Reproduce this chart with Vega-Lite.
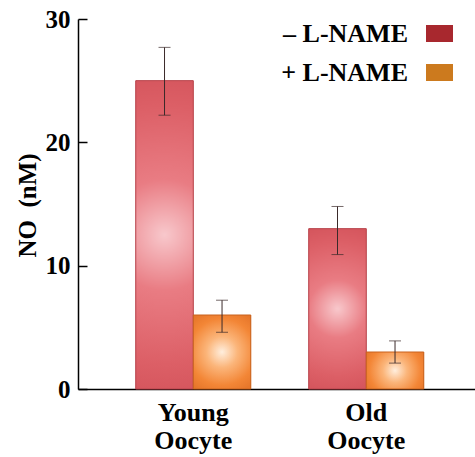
{
  "$schema": "https://vega.github.io/schema/vega-lite/v6.json",
  "width": 397,
  "height": 370,
  "autosize": {"type": "none"},
  "padding": {"left": 78, "top": 19, "right": 0, "bottom": 68},
  "background": "white",
  "config": {
    "view": {"stroke": null},
    "font": "Liberation Serif"
  },
  "data": {
    "values": [
      {"group": "Young Oocyte", "treatment": "– L-NAME", "mean": 25.0, "lo": 22.2, "hi": 27.7},
      {"group": "Young Oocyte", "treatment": "+ L-NAME", "mean": 6.0, "lo": 4.6, "hi": 7.2},
      {"group": "Old Oocyte", "treatment": "– L-NAME", "mean": 13.0, "lo": 10.9, "hi": 14.8},
      {"group": "Old Oocyte", "treatment": "+ L-NAME", "mean": 3.0, "lo": 2.1, "hi": 3.9}
    ]
  },
  "encoding": {
    "x": {
      "field": "group",
      "type": "nominal",
      "sort": null,
      "scale": {"paddingInner": 0.335, "paddingOuter": 0.315, "align": 0.53},
      "axis": {
        "title": null,
        "labelAngle": 0,
        "ticks": false,
        "domainColor": "black",
        "domainWidth": 1.5,
        "labelFont": "Liberation Serif",
        "labelFontWeight": "bold",
        "labelFontSize": 26,
        "labelColor": "black",
        "labelLineHeight": 28,
        "labelPadding": 10,
        "labelExpr": "split(datum.label, ' ')"
      }
    },
    "xOffset": {
      "field": "treatment",
      "type": "nominal",
      "sort": ["– L-NAME", "+ L-NAME"],
      "scale": {"paddingInner": 0, "paddingOuter": 0}
    }
  },
  "layer": [
    {
      "mark": {"type": "bar", "stroke": null},
      "encoding": {
        "y": {
          "field": "mean",
          "type": "quantitative",
          "scale": {"domain": [0, 30]},
          "axis": {
            "title": "NO\u00a0\u00a0(nM)",
            "values": [0, 10, 20, 30],
            "grid": false,
            "domainColor": "black",
            "domainWidth": 1.5,
            "tickColor": "black",
            "tickWidth": 1.5,
            "tickSize": -9,
            "labelPadding": 17,
            "labelFont": "Liberation Serif",
            "labelFontWeight": "bold",
            "labelFontSize": 25,
            "labelColor": "black",
            "titleFont": "Liberation Serif",
            "titleFontWeight": "bold",
            "titleFontSize": 25,
            "titleColor": "black",
            "titleX": -51,
            "titleY": 186,
            "titleBaseline": "middle",
            "titleAlign": "center",
            "titleAngle": -90
          }
        },
        "color": {
          "field": "treatment",
          "type": "nominal",
          "scale": {"domain": ["– L-NAME", "+ L-NAME"], "range": ["#a8282e", "#cc7a1e"]},
          "legend": {
            "title": null,
            "orient": "none",
            "legendX": 348,
            "legendY": 1,
            "padding": 0,
            "symbolType": "M-1,-0.63H1V0.63H-1Z",
            "symbolSize": 729,
            "symbolStrokeWidth": 0,
            "labelAlign": "right",
            "labelOffset": -45,
            "labelFont": "Liberation Serif",
            "labelFontWeight": "bold",
            "labelFontSize": 26,
            "labelColor": "black",
            "rowPadding": 12
          }
        }
      }
    },
    {
      "transform": [{"filter": "datum.treatment == '– L-NAME'"}],
      "mark": {
        "type": "bar",
        "stroke": "#b9454c",
        "strokeWidth": 1,
        "fill": {
          "gradient": "radial",
          "x1": 0.5, "y1": 0.5, "r1": 0,
          "x2": 0.5, "y2": 0.5, "r2": 0.6,
          "stops": [
            {"offset": 0, "color": "#f8c8cc"},
            {"offset": 0.3, "color": "#e97c83"},
            {"offset": 0.7, "color": "#dc5f66"},
            {"offset": 1, "color": "#cf4e56"}
          ]
        }
      },
      "encoding": {"y": {"field": "mean", "type": "quantitative"}}
    },
    {
      "transform": [{"filter": "datum.treatment == '+ L-NAME'"}],
      "mark": {
        "type": "bar",
        "stroke": "#c8621e",
        "strokeWidth": 1,
        "fill": {
          "gradient": "radial",
          "x1": 0.5, "y1": 0.5, "r1": 0,
          "x2": 0.5, "y2": 0.5, "r2": 0.6,
          "stops": [
            {"offset": 0, "color": "#ffeedd"},
            {"offset": 0.35, "color": "#fbb57a"},
            {"offset": 0.75, "color": "#f38636"},
            {"offset": 1, "color": "#e6762a"}
          ]
        }
      },
      "encoding": {"y": {"field": "mean", "type": "quantitative"}}
    },
    {
      "mark": {"type": "rule", "color": "#3a2a2a", "strokeWidth": 1},
      "encoding": {
        "y": {"field": "lo", "type": "quantitative"},
        "y2": {"field": "hi"}
      }
    },
    {
      "mark": {"type": "tick", "color": "#3a2a2a", "size": 12, "thickness": 1},
      "encoding": {"y": {"field": "hi", "type": "quantitative"}}
    },
    {
      "mark": {"type": "tick", "color": "#3a2a2a", "size": 12, "thickness": 1},
      "encoding": {"y": {"field": "lo", "type": "quantitative"}}
    }
  ]
}
